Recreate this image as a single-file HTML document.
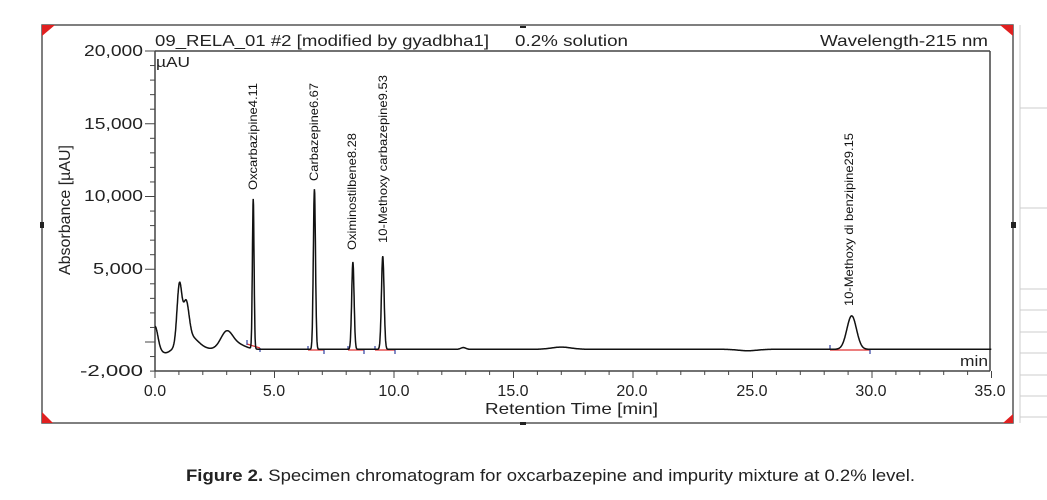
<!DOCTYPE html>
<html><head><meta charset="utf-8"><style>
body{margin:0;background:#fff;width:1047px;height:500px;overflow:hidden}
svg{display:block}
text{font-family:"Liberation Sans",sans-serif}
</style></head><body>
<svg id="s" width="1047" height="500" viewBox="0 0 1047 500">
<rect x="42" y="25" width="971" height="398" fill="none" stroke="#555" stroke-width="1.5"/>
<polygon points="42,25 55,25 42,36" fill="#e02020"/>
<polygon points="42,423 53,423 42,412" fill="#e02020"/>
<polygon points="1013,25 1000,25 1013,36" fill="#e02020"/>
<polygon points="1013,423 1003,423 1013,414" fill="#e02020"/>
<rect x="40" y="222" width="4" height="6" fill="#222"/>
<rect x="1011" y="222" width="5" height="6" fill="#222"/>
<rect x="520" y="26" width="6" height="2" fill="#222"/>
<rect x="520" y="422" width="6" height="3" fill="#222"/>
<g stroke="#ccc" stroke-width="1">
<line x1="1020" y1="25" x2="1020" y2="423"/>
<line x1="1020" y1="108" x2="1047" y2="108"/>
<line x1="1020" y1="208" x2="1047" y2="208"/>
<line x1="1020" y1="289" x2="1047" y2="289"/>
<line x1="1020" y1="310" x2="1047" y2="310"/>
<line x1="1020" y1="332" x2="1047" y2="332"/>
<line x1="1020" y1="353" x2="1047" y2="353"/>
<line x1="1020" y1="375" x2="1047" y2="375"/>
<line x1="1020" y1="396" x2="1047" y2="396"/>
<line x1="1020" y1="417" x2="1047" y2="417"/>
</g>
<g stroke="#444" stroke-width="1.5" fill="none">
<line x1="155" y1="51" x2="990" y2="51"/>
<line x1="990" y1="51" x2="990" y2="371"/>
<line x1="155" y1="51" x2="155" y2="371"/>
<line x1="155" y1="371" x2="990" y2="371"/>
</g>
<g id="ticks" stroke="#444" stroke-width="1"></g>
<g font-size="16" fill="#222" lengthAdjust="spacingAndGlyphs">
<text x="155" y="46" textLength="334" lengthAdjust="spacingAndGlyphs">09_RELA_01 #2 [modified by gyadbha1]</text>
<text x="515" y="46" textLength="113" lengthAdjust="spacingAndGlyphs">0.2% solution</text>
<text x="820" y="46" textLength="168" lengthAdjust="spacingAndGlyphs">Wavelength-215 nm</text>
<text x="156" y="67" font-size="15" textLength="34" lengthAdjust="spacingAndGlyphs">µAU</text>
<text x="960" y="366" font-size="15" textLength="28" lengthAdjust="spacingAndGlyphs">min</text>
</g>
<g font-size="16" fill="#222">
<text x="84" y="56" textLength="59" lengthAdjust="spacingAndGlyphs">20,000</text>
<text x="84" y="129" textLength="59" lengthAdjust="spacingAndGlyphs">15,000</text>
<text x="84" y="201" textLength="59" lengthAdjust="spacingAndGlyphs">10,000</text>
<text x="93" y="274" textLength="50" lengthAdjust="spacingAndGlyphs">5,000</text>
<text x="80" y="376" textLength="63" lengthAdjust="spacingAndGlyphs">-2,000</text>
</g>
<g font-size="16" fill="#222" text-anchor="middle">
<text x="155" y="396">0.0</text>
<text x="274" y="396">5.0</text>
<text x="394" y="396">10.0</text>
<text x="513" y="396">15.0</text>
<text x="632" y="396">20.0</text>
<text x="752" y="396">25.0</text>
<text x="871" y="396">30.0</text>
<text x="990" y="396">35.0</text>
</g>
<text x="485" y="414" font-size="16" fill="#222" textLength="173" lengthAdjust="spacingAndGlyphs">Retention Time [min]</text>
<text transform="translate(70,275) rotate(-90)" font-size="16" fill="#222" textLength="130" lengthAdjust="spacingAndGlyphs">Absorbance [µAU]</text>
<g font-size="12" fill="#111">
<text transform="translate(257,190) rotate(-90)" textLength="107" lengthAdjust="spacingAndGlyphs">Oxcarbazipine4.11</text>
<text transform="translate(318,181) rotate(-90)" textLength="98" lengthAdjust="spacingAndGlyphs">Carbazepine6.67</text>
<text transform="translate(356,250) rotate(-90)" textLength="117" lengthAdjust="spacingAndGlyphs">Oximinostilbene8.28</text>
<text transform="translate(387,243) rotate(-90)" textLength="168" lengthAdjust="spacingAndGlyphs">10-Methoxy carbazepine9.53</text>
<text transform="translate(853,306) rotate(-90)" textLength="173" lengthAdjust="spacingAndGlyphs">10-Methoxy di benzipine29.15</text>
</g>
<g stroke="#e03030" stroke-width="1.2">
<line x1="247" y1="344" x2="260" y2="348"/>
<line x1="308" y1="350" x2="324" y2="350"/>
<line x1="348" y1="350" x2="364" y2="350"/>
<line x1="375" y1="350" x2="395" y2="350"/>
<line x1="830" y1="350" x2="870" y2="350"/>
</g>
<g stroke="#3040a0" stroke-width="1.2">
<line x1="247" y1="340" x2="247" y2="345"/><line x1="260" y1="348" x2="260" y2="352"/>
<line x1="308" y1="346" x2="308" y2="350"/><line x1="324" y1="350" x2="324" y2="354"/>
<line x1="348" y1="346" x2="348" y2="350"/><line x1="364" y1="350" x2="364" y2="354"/>
<line x1="375" y1="346" x2="375" y2="350"/><line x1="395" y1="350" x2="395" y2="354"/>
<line x1="830" y1="345" x2="830" y2="350"/><line x1="870" y1="350" x2="870" y2="354"/>
</g>
<path id="trace" fill="none" stroke="#111" stroke-width="1.5"/>
<text x="186" y="481" font-size="17" fill="#222" textLength="729" lengthAdjust="spacingAndGlyphs"><tspan font-weight="bold">Figure 2.</tspan> Specimen chromatogram for oxcarbazepine and impurity mixture at 0.2% level.</text>
</svg>
<script>
var X=function(t){return 155+t*23.9;};
var tk=document.getElementById('ticks'),h='';
for(var t=0;t<=35.01;t+=1){var x=X(t);h+='<line x1="'+x+'" y1="371" x2="'+x+'" y2="'+(t%5==0?378:375)+'"/>';}
for(var v=-2000;v<=20000;v+=1000){var y=342-v*0.01455;h+='<line x1="'+(v%5000==0?145:150)+'" y1="'+y+'" x2="155" y2="'+y+'"/>';}
tk.innerHTML=h;
function g(t,c,s,a){return a*Math.exp(-0.5*Math.pow((t-c)/s,2));}
var d='';
for(var t=0;t<=35;t+=0.01){
 var v=-500;
 v+=g(t,0,0.12,1600)-g(t,0.45,0.2,250);
 v+=g(t,1.02,0.1,4000)+g(t,1.3,0.12,2500)+g(t,1.45,0.35,900);
 v+=g(t,3.0,0.25,1200)+g(t,3.5,0.3,300);
 v+=g(t,4.11,0.035,10300)+g(t,6.67,0.045,11000)+g(t,8.28,0.05,6000)+g(t,9.53,0.055,6400);
 v+=g(t,12.9,0.1,120)+g(t,17.0,0.4,150)-g(t,24.8,0.4,100);
 v+=g(t,29.15,0.2,2300);
 var y=342-v*0.01455;
 d+=(d?'L':'M')+X(t).toFixed(1)+','+y.toFixed(1);
}
document.getElementById('trace').setAttribute('d',d);
</script>
</body></html>
